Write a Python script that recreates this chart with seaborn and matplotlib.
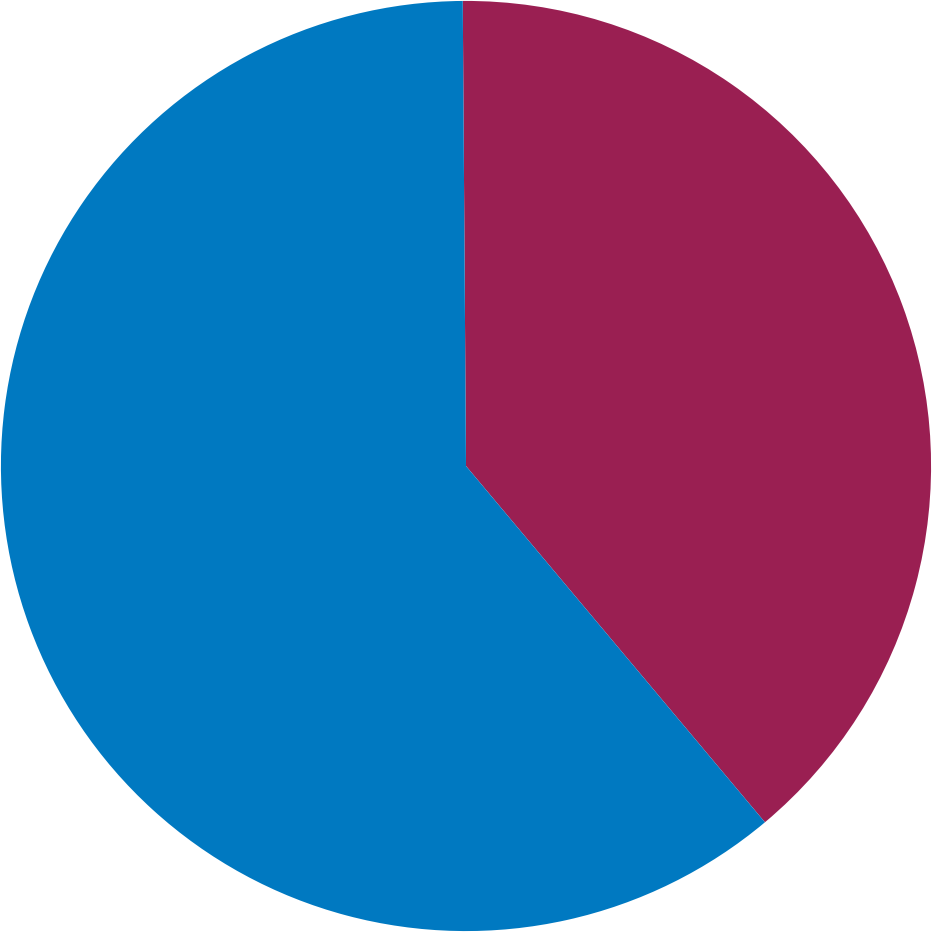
import matplotlib
matplotlib.use("Agg")
import matplotlib.pyplot as plt
import seaborn as sns

labels = ["A", "B"]
values = [39, 61]
colors = ["#9A1F52", "#0079C1"]

sns.set_theme(style="white")
fig = plt.figure(figsize=(9.32, 9.32), dpi=100)
ax = fig.add_axes([0, 0, 1, 1])
ax.pie(values, colors=colors, startangle=90.4, counterclock=False,
       radius=1.0, wedgeprops=dict(linewidth=0))
ax.set_xlim(-1.002, 1.002)
ax.set_ylim(-1.002, 1.002)
ax.set_aspect("equal")
ax.axis("off")
fig.savefig("out.png", dpi=100, facecolor="white")
